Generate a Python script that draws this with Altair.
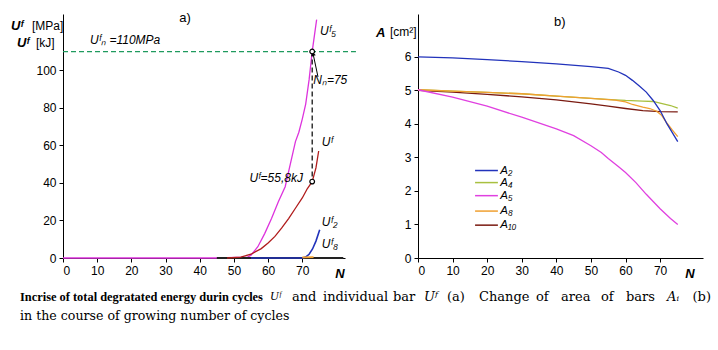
import altair as alt
import pandas as pd

# ---------------- data: panel a) ----------------
u5_N = [0, 45, 54, 55, 57, 59, 61, 63, 65, 66.5, 68, 69, 70, 71, 72, 72.9, 74.2]
u5_U = [0, 0, 0.5, 1.5, 6, 13, 21, 30, 38, 50, 62, 67, 74, 82, 95, 110, 127]

uF_N = [48, 52, 55, 58, 60, 62, 64, 66, 68, 70, 71.5, 72.9, 74, 74.8]
uF_U = [0, 0.5, 2, 5, 8, 11.5, 16, 21, 26.5, 32, 37, 40.7, 48, 57]

u2_N = [55, 70, 71, 72, 73, 74, 75.1]
u2_U = [0, 0, 0.5, 2, 4.8, 9, 15]

u8_N = [70, 73.3]
u8_U = [0.3, 0.5]

uo_N = [45, 51, 73, 82]
uo_U = [0, 0, 0, 0]

limit_N = [0, 85.7]
limit_U = [110, 110]
cross_N = [72.9, 72.9]
cross_U = [110, 40.7]
arrow_N = [74.6, 73.2]
arrow_U = [96.5, 108.5]

a_labels = ["a)", "Uᶠₙ =110MPa", "Uᶠ₅", "Nₙ=75", "Uᶠ", "Uᶠ=55,8kJ", "Uᶠ₂", "Uᶠ₈"]
a_lab_N = [35.7, 7.9, 75.2, 73.2, 75.7, 70.2, 75.7, 75.7]
a_lab_U = [128, 116, 121, 95, 62, 42.5, 19, 7.5]
a_lab_align = ["center", "left", "left", "left", "left", "right", "left", "left"]

# ---------------- data: panel b) ----------------
A2_N = [0, 10, 20, 30, 40, 50, 55, 58, 60, 62, 64, 66, 68, 70, 72, 75.1]
A2_v = [6.0, 5.97, 5.92, 5.86, 5.79, 5.71, 5.66, 5.55, 5.45, 5.3, 5.13, 4.95, 4.7, 4.4, 4.0, 3.47]
A4_N = [0, 10, 20, 30, 40, 50, 57, 60, 65, 68, 70, 73, 75.1]
A4_v = [5.02, 4.98, 4.94, 4.9, 4.83, 4.76, 4.72, 4.7, 4.68, 4.67, 4.62, 4.55, 4.47]
A5_N = [0, 10, 20, 30, 40, 45, 50, 53, 55, 58, 60, 63, 66, 70, 73, 75.1]
A5_v = [5.02, 4.8, 4.53, 4.2, 3.85, 3.65, 3.35, 3.15, 2.97, 2.72, 2.55, 2.25, 1.9, 1.47, 1.18, 1.0]
A8_N = [0, 10, 20, 30, 40, 50, 57, 60, 62, 65, 67, 69, 70.5, 72, 73.5, 75.1]
A8_v = [5.02, 4.98, 4.94, 4.9, 4.83, 4.76, 4.71, 4.66, 4.58, 4.5, 4.46, 4.38, 4.25, 4.02, 3.82, 3.62]
A10_N = [0, 10, 20, 30, 40, 50, 55, 60, 65, 70, 75.1]
A10_v = [5.0, 4.95, 4.88, 4.81, 4.72, 4.6, 4.53, 4.46, 4.4, 4.37, 4.36]

legend_names = ["A₂", "A₄", "A₅", "A₈", "A₁₀"]
legend_colors = ["#2233bb", "#a8c040", "#e040e0", "#f0a030", "#7a1a10"]
legend_A = [2.61, 2.25, 1.86, 1.40, 0.98]
legend_N0 = 16.5
legend_N1 = 23.1
legend_NT = 23.8

b_labels = ["b)"]
b_lab_N = [41]
b_lab_A = [7.04]

# caption (justified first line: words placed one by one)
cap_bold = "Incrise of total degratated energy durin cycles"
cap_words = ["and", "individual", "bar", "Uᶠ", "(a)", "Change", "of", "area", "of", "bars", "Aᵢ", "(b)"]
cap_word_x = [292, 323, 393, 424, 447, 479, 536, 561, 601, 626, 667, 690]
cap_line2 = "in the course of growing number of cycles"

FONT = "Liberation Sans"
SERIF = "Liberation Serif"
SERIF2 = "DejaVu Serif"
PL, PT = 63, 14

xL = alt.Scale(domain=[0, 82.5], range=[0, 282], nice=False, zero=False)
yL = alt.Scale(domain=[0, 130], range=[244, 0], nice=False, zero=False)
xR = alt.Scale(domain=[0, 82.4], range=[355, 640], nice=False, zero=False)
yR = alt.Scale(domain=[0, 7.28], range=[244, 0], nice=False, zero=False)

axis_style = dict(domainColor="black", tickColor="black", labelColor="black",
                  labelFont=FONT, labelFontSize=12, tickSize=4, grid=False,
                  title=None, domainWidth=1, labelPadding=3)

ax_xL = alt.Axis(values=[0, 10, 20, 30, 40, 50, 60, 70], orient="bottom", **axis_style)
ax_yL = alt.Axis(values=[0, 20, 40, 60, 80, 100], orient="left", **axis_style)
ax_xR = alt.Axis(values=[0, 10, 20, 30, 40, 50, 60, 70], orient="bottom", **axis_style)
ax_yR = alt.Axis(values=[0, 1, 2, 3, 4, 5, 6], orient="left", offset=-355, **axis_style)


def df(xs, ys):
    return pd.DataFrame({"N": xs, "V": ys})


def XL(f="N:Q"):
    return alt.X(f, scale=xL, axis=ax_xL)


def YL(f="V:Q"):
    return alt.Y(f, scale=yL, axis=ax_yL)


def XR(f="N:Q"):
    return alt.X(f, scale=xR, axis=ax_xR)


def YR(f="V:Q"):
    return alt.Y(f, scale=yR, axis=ax_yR)


def line_L(xs, ys, color, width=1.3, dash=None):
    kw = dict(color=color, strokeWidth=width)
    if dash:
        kw["strokeDash"] = dash
    return alt.Chart(df(xs, ys)).mark_line(**kw).encode(
        x=XL(), y=YL(), order=alt.Order("N:Q"))


left_layers = [
    line_L(u5_N, u5_U, "#dd33dd"),
    line_L(uo_N, uo_U, "#222222", width=1.8),
    line_L(uF_N, uF_U, "#b01c1c"),
    line_L(u2_N, u2_U, "#2233bb", width=1.6),
    line_L(u8_N, u8_U, "#f0a030", width=1.8),
    line_L(limit_N, limit_U, "#1f9a5e", width=1.3, dash=[5, 3]),
    line_L(cross_N, cross_U, "black", width=1.2, dash=[5, 3]),
    line_L(arrow_N, arrow_U, "black", width=1),
    alt.Chart(df([arrow_N[1]], [arrow_U[1]])).mark_point(
        shape="triangle", filled=True, color="black", size=22, angle=347, opacity=1
    ).encode(x=XL(), y=YL()),
    alt.Chart(df(cross_N, cross_U)).mark_point(
        shape="circle", filled=True, fill="white", stroke="black", strokeWidth=1.2, size=22, opacity=1
    ).encode(x=XL(), y=YL()),
]

lab_df = pd.DataFrame({"t": a_labels, "N": a_lab_N, "V": a_lab_U, "al": a_lab_align})
for al in ["center", "left", "right"]:
    sub = lab_df[lab_df["al"] == al]
    size = 13 if al == "center" else 12
    style = "normal" if al == "center" else "italic"
    left_layers.append(
        alt.Chart(sub).mark_text(font=FONT, fontSize=size, fontStyle=style, align=al,
                                 baseline="middle", color="black").encode(
            x=XL(), y=YL(), text="t:N")
    )
left_layers.append(
    alt.Chart(df([81], [-8.5])).mark_text(font=FONT, fontSize=13, fontStyle="italic", fontWeight="bold",
                                          baseline="middle", color="black", text="N").encode(
        x=XL(), y=YL())
)
left = alt.layer(*left_layers)

# ---------------- right panel ----------------


def line_R(xs, ys, color, width=1.3):
    return alt.Chart(df(xs, ys)).mark_line(color=color, strokeWidth=width).encode(
        x=XR(), y=YR(), order=alt.Order("N:Q"))


right_layers = [
    line_R(A10_N, A10_v, legend_colors[4]),
    line_R(A4_N, A4_v, legend_colors[1]),
    line_R(A8_N, A8_v, legend_colors[3]),
    line_R(A5_N, A5_v, legend_colors[2]),
    line_R(A2_N, A2_v, legend_colors[0]),
]
leg_df = pd.DataFrame({"name": legend_names, "color": legend_colors, "V": legend_A,
                       "N0": [legend_N0] * 5, "N1": [legend_N1] * 5, "NT": [legend_NT] * 5})
right_layers.append(
    alt.Chart(leg_df).mark_rule(strokeWidth=1.5).encode(
        x=XR("N0:Q"), x2="N1:Q", y=YR(),
        color=alt.Color("color:N", scale=None, legend=None))
)
right_layers.append(
    alt.Chart(leg_df).mark_text(font=FONT, fontSize=11.5, fontStyle="italic", align="left",
                                baseline="middle", color="black").encode(
        x=XR("NT:Q"), y=YR(), text="name:N")
)
right_layers.append(
    alt.Chart(pd.DataFrame({"t": b_labels, "N": b_lab_N, "V": b_lab_A})).mark_text(
        font=FONT, fontSize=13, align="center", baseline="middle", color="black").encode(
        x=XR(), y=YR(), text="t:N")
)
right_layers.append(
    alt.Chart(df([78.6], [-0.48])).mark_text(font=FONT, fontSize=13, fontStyle="italic", fontWeight="bold",
                                             baseline="middle", color="black", text="N").encode(
        x=XR(), y=YR())
)
right = alt.layer(*right_layers)

# ---------------- free texts (axis titles, caption) ----------------
one = pd.DataFrame({"a": [0]})


def ptext(t, X, Y, size=12, weight="normal", style="normal", font=FONT, align="left"):
    return alt.Chart(one).mark_text(text=t, font=font, fontSize=size, fontWeight=weight,
                                    fontStyle=style, align=align, baseline="middle",
                                    color="black").encode(
        x=alt.value(X - PL), y=alt.value(Y - PT))


texts = [
    ptext("Uᶠ", 11, 26, size=13, weight="bold", style="italic"),
    ptext("[MPa]", 32, 26, size=12),
    ptext("Uᶠ", 17, 43, size=13, weight="bold", style="italic"),
    ptext("[kJ]", 36, 43, size=12),
    ptext("A", 376, 33, size=13, weight="bold", style="italic"),
    ptext("[cm²]", 390, 32, size=12),
    ptext(cap_bold, 20, 297, size=12.4, weight="bold", font=SERIF),
    ptext("Uᶠ", 270, 296, size=12, style="italic", font=SERIF),
    ptext(cap_line2, 20, 316, size=12.6, font=SERIF2),
]
for w, xw in zip(cap_words, cap_word_x):
    italic = w in ("Uᶠ", "Aᵢ")
    if w == "(b)":
        texts.append(ptext(w, 711, 297, size=13, font=SERIF2, align="right"))
    else:
        texts.append(ptext(w, xw, 297, size=13, font=SERIF2, style="italic" if italic else "normal"))

chart = alt.layer(left, right, *texts).resolve_scale(
    x="independent", y="independent"
).resolve_axis(x="independent", y="independent").properties(
    width=655, height=244,
    autosize=alt.AutoSizeParams(type="none"),
    padding={"left": PL, "top": PT, "right": 0, "bottom": 92},
).configure_view(stroke=None)

chart.save("out.html", embed_options={"renderer": "svg", "actions": False})
